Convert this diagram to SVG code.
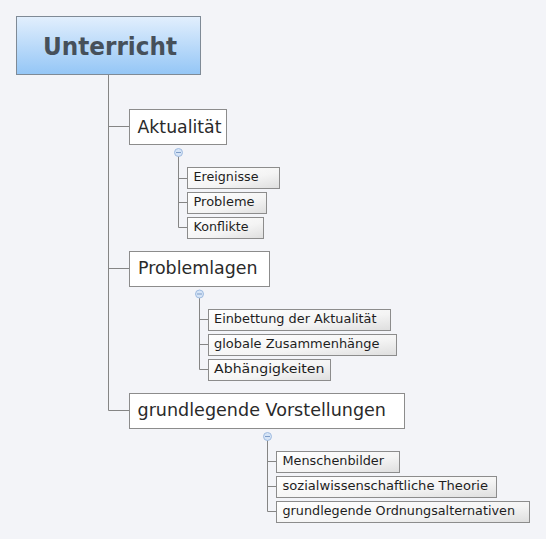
<svg xmlns="http://www.w3.org/2000/svg" width="546" height="539" viewBox="0 0 546 539">
<defs>
<linearGradient id="gRoot" x1="0" y1="0" x2="0" y2="1">
<stop offset="0" stop-color="#e2effd"/>
<stop offset="1" stop-color="#94c6f6"/>
</linearGradient>
<linearGradient id="gSub" x1="0" y1="0" x2="1" y2="1">
<stop offset="0" stop-color="#ffffff"/>
<stop offset="0.6" stop-color="#f4f4f4"/>
<stop offset="1" stop-color="#dedede"/>
</linearGradient>
</defs>
<style>
.bg{fill:#f3f4f8}
.root{fill:url(#gRoot);stroke:#7f8a96;stroke-width:1}
.main{fill:#ffffff;stroke:#8c8c8c;stroke-width:1}
.sub{fill:url(#gSub);stroke:#8c8c8c;stroke-width:1}
.conn{fill:none;stroke:#858585;stroke-width:1}
.tr{font-family:"DejaVu Sans",sans-serif;font-weight:bold;font-size:24px;fill:#46505a}
.tm{font-family:"DejaVu Sans",sans-serif;font-size:17px;fill:#2a2a2a}
.ts{font-family:"DejaVu Sans",sans-serif;font-size:12px;fill:#1e1e1e}
.col{fill:#d6e4f6;stroke:#9fbbe0;stroke-width:1}
.minus{stroke:#7d9cc8;stroke-width:1}
</style>
<rect class="bg" x="0" y="0" width="546" height="539"/>

<g id="connectors">
<path class="conn" d="M108.5 75 V410.5 M108.5 126.5 H129 M108.5 268.5 H129 M108.5 410.5 H129"/>
<path class="conn" d="M178.5 156 V227.5 H188 M178.5 178.5 H188 M178.5 202.5 H188"/>
<path class="conn" d="M199.5 297 V369.5 H208 M199.5 319.5 H208 M199.5 344.5 H208"/>
<path class="conn" d="M267.5 440 V511.5 H277 M267.5 461.5 H277 M267.5 486.5 H277"/>
</g>

<g id="root">
<rect class="root" x="16.5" y="16.5" width="184" height="58"/>
<text class="tr" x="110" y="55" text-anchor="middle" textLength="134" lengthAdjust="spacingAndGlyphs">Unterricht</text>
</g>

<g id="aktualitaet">
<rect class="main" x="129.5" y="109.5" width="97" height="35"/>
<text class="tm" x="137.5" y="132.5" textLength="84" lengthAdjust="spacingAndGlyphs">Aktualität</text>
<circle class="col" cx="178.5" cy="152.5" r="4"/>
<line class="minus" x1="176" y1="152.5" x2="181" y2="152.5"/>
</g>
<g id="ereignisse">
<rect class="sub" x="187.5" y="167.5" width="92" height="21"/>
<text class="ts" x="193.5" y="180.5" textLength="65" lengthAdjust="spacingAndGlyphs">Ereignisse</text>
</g>
<g id="probleme">
<rect class="sub" x="187.5" y="192.5" width="79" height="21"/>
<text class="ts" x="193.5" y="205.5" textLength="61" lengthAdjust="spacingAndGlyphs">Probleme</text>
</g>
<g id="konflikte">
<rect class="sub" x="187.5" y="217.5" width="76" height="21"/>
<text class="ts" x="193.5" y="230.5" textLength="55" lengthAdjust="spacingAndGlyphs">Konflikte</text>
</g>

<g id="problemlagen">
<rect class="main" x="129.5" y="251.5" width="140" height="35"/>
<text class="tm" x="138" y="274" textLength="119.5" lengthAdjust="spacingAndGlyphs">Problemlagen</text>
<circle class="col" cx="199.5" cy="294" r="4"/>
<line class="minus" x1="197" y1="294" x2="202" y2="294"/>
</g>
<g id="einbettung">
<rect class="sub" x="208.5" y="309.5" width="182" height="21"/>
<text class="ts" x="214" y="322.5" textLength="162.5" lengthAdjust="spacingAndGlyphs">Einbettung der Aktualität</text>
</g>
<g id="globale">
<rect class="sub" x="208.5" y="334.5" width="188" height="21"/>
<text class="ts" x="214" y="347.5" textLength="165.5" lengthAdjust="spacingAndGlyphs">globale Zusammenhänge</text>
</g>
<g id="abhaengigkeiten">
<rect class="sub" x="208.5" y="359.5" width="122" height="21"/>
<text class="ts" x="214" y="372.5" textLength="110.5" lengthAdjust="spacingAndGlyphs">Abhängigkeiten</text>
</g>

<g id="vorstellungen">
<rect class="main" x="129.5" y="393.5" width="275" height="35"/>
<text class="tm" x="137.5" y="416" textLength="248.5" lengthAdjust="spacingAndGlyphs">grundlegende Vorstellungen</text>
<circle class="col" cx="267.5" cy="436.5" r="4"/>
<line class="minus" x1="265" y1="436.5" x2="270" y2="436.5"/>
</g>
<g id="menschenbilder">
<rect class="sub" x="276.5" y="451.5" width="123" height="21"/>
<text class="ts" x="282.5" y="464.5" textLength="101.5" lengthAdjust="spacingAndGlyphs">Menschenbilder</text>
</g>
<g id="theorie">
<rect class="sub" x="276.5" y="476.5" width="220" height="21"/>
<text class="ts" x="282.5" y="489.5" textLength="205.5" lengthAdjust="spacingAndGlyphs">sozialwissenschaftliche Theorie</text>
</g>
<g id="ordnung">
<rect class="sub" x="276.5" y="501.5" width="253" height="21"/>
<text class="ts" x="282.5" y="514.5" textLength="232.5" lengthAdjust="spacingAndGlyphs">grundlegende Ordnungsalternativen</text>
</g>
</svg>
